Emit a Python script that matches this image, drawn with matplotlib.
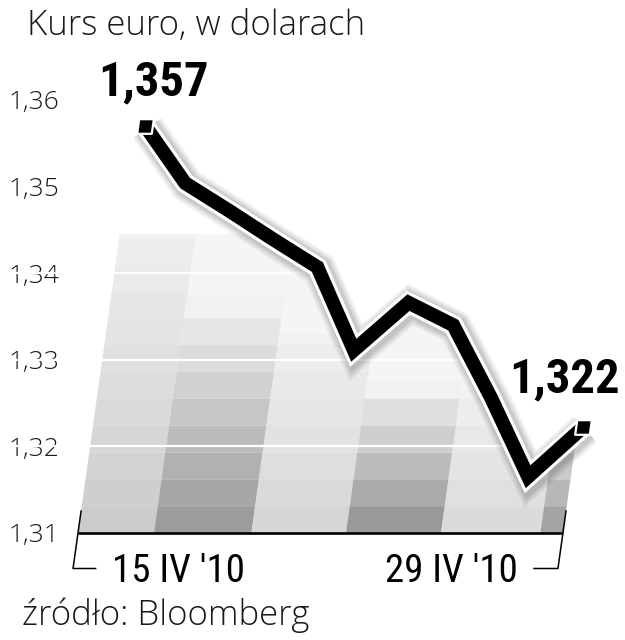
import numpy as np
import matplotlib

matplotlib.use("Agg")
import matplotlib.pyplot as plt
import matplotlib.patheffects as pe
from matplotlib.path import Path
from matplotlib.patches import Polygon, Rectangle
from matplotlib.transforms import Affine2D

# data (EUR/USD, 15-29 IV 2010, business days)
dates = ["15 IV", "16 IV", "19 IV", "20 IV", "21 IV", "22 IV",
         "23 IV", "26 IV", "27 IV", "28 IV", "29 IV"]
rates = [1.357, 1.3504, 1.3472, 1.3439, 1.3407, 1.3311,
         1.3366, 1.3340, 1.3256, 1.3165, 1.3222]
first_label = "1,357"
last_label = "1,322"
yticks = [1.31, 1.32, 1.33, 1.34, 1.35, 1.36]
ytick_labels = ["1,31", "1,32", "1,33", "1,34", "1,35", "1,36"]
xlabels = ["15 IV '10", "29 IV '10"]
title = "Kurs euro, w dolarach"
source = "źródło: Bloomberg"

# decorative background columns (index units), their tops and bottom greys
col_edges = [-0.2125, 1.37, 3.4, 5.37, 7.35, 9.42, 9.89]
col_tops = [1.3445, 1.3375, 1.3330, 1.3275, 1.3265, 1.3225]
col_bottom_grey = [0.80, 0.61, 0.84, 0.60, 0.86, 0.64]
band_top = 1.3445
base = 1.31
skew_k = 25.26  # index units per 1.0 of rate -> 0.14 px/px lean

LIGHT_FONT = ["Open Sans", "Roboto", "DejaVu Sans"]
NARROW = ["Roboto Condensed", "Liberation Sans Narrow", "Roboto", "DejaVu Sans"]

fig = plt.figure(figsize=(6.25, 6.4), dpi=100)
ax = fig.add_axes([0, 0, 1, 1])
ax.set_xlim(-1.8375, 11.1833)
ax.set_ylim(1.297644, 1.371547)
for spine in ax.spines.values():
    spine.set_visible(False)

skew = Affine2D(np.array([[1.0, skew_k, -skew_k * base],
                          [0.0, 1.0, 0.0],
                          [0.0, 0.0, 1.0]])) + ax.transData

x = np.arange(len(rates))
y = np.array(rates)

# clip region: everything below the line
clip_verts = [(-1, 1.29), (-1, 1.40), (0, 1.40)] + list(zip(x, y)) + [(11, y[-1]), (11, 1.29)]
clip_poly = Polygon(clip_verts, closed=True, transform=skew)

# light backdrop
backdrop = Rectangle((col_edges[0], base), col_edges[-1] - col_edges[0], band_top - base,
                     facecolor="#f5f5f5", edgecolor="none", transform=skew, zorder=1)
ax.add_patch(backdrop)
backdrop.set_clip_path(clip_poly)

stripe_h = 0.0031
for c in range(len(col_tops)):
    x0, x1 = col_edges[c], col_edges[c + 1]
    top = col_tops[c]
    n = int(np.ceil((top - base) / stripe_h))
    for k in range(n):
        y0 = base + k * stripe_h
        h = min(stripe_h, top - y0)
        frac = k / max(n - 1, 1)
        g = col_bottom_grey[c] + (0.945 - col_bottom_grey[c]) * frac
        r = Rectangle((x0, y0), x1 - x0, h, facecolor=(g, g, g), edgecolor="none",
                      transform=skew, zorder=1.2)
        ax.add_patch(r)
        r.set_clip_path(clip_poly)

# white grid lines inside the bands
ax.hlines(yticks[1:4], -2, 12, colors="white", linewidth=1.6, zorder=2)

# baseline and slanted brackets
ax.plot([col_edges[0], col_edges[-1]], [base, base], color="black", lw=1.9,
        transform=skew, zorder=3, solid_capstyle="butt")
br_top, br_bot = 1.31254, 1.3059
ax.plot([col_edges[0], col_edges[0], col_edges[0] + 0.47], [br_top, br_bot, br_bot],
        color="black", lw=1.1, transform=skew, zorder=3)
ax.plot([col_edges[-1], col_edges[-1], col_edges[-1] - 0.5], [br_top, br_bot, br_bot],
        color="black", lw=1.1, transform=skew, zorder=3)

# the rate line, white rim and a soft shadow
soft = [pe.SimpleLineShadow(offset=(1.5, -1.5), shadow_color="0.2", alpha=0.07, linewidth=w)
        for w in (25, 22, 19.5, 17.5)]
ax.plot(x, y, color="black", lw=10, transform=skew, zorder=5,
        solid_joinstyle="miter", solid_capstyle="butt",
        path_effects=soft + [pe.Stroke(linewidth=14.5, foreground="white"), pe.Normal()])

# end squares (leaning like the chart)
lean = 0.07
square = Path([(-0.5 - lean, -0.5), (0.5 - lean, -0.5), (0.5 + lean, 0.5), (-0.5 + lean, 0.5), (-0.5 - lean, -0.5)],
              [Path.MOVETO, Path.LINETO, Path.LINETO, Path.LINETO, Path.CLOSEPOLY])
ax.plot([x[0], x[-1]], [y[0], y[-1]], linestyle="none", marker=square, markersize=12,
        markerfacecolor="black", markeredgecolor="white", markeredgewidth=1.6,
        transform=skew, zorder=6)

# value labels
ax.annotate(first_label, xy=(x[0], y[0]), xycoords=skew, xytext=(8, 30), textcoords="offset pixels",
            ha="center", va="baseline", fontsize=35, fontweight="bold", family=NARROW, zorder=7)
ax.annotate(last_label, xy=(x[-1], y[-1]), xycoords=skew, xytext=(-18, 35), textcoords="offset pixels",
            ha="center", va="baseline", fontsize=35, fontweight="bold", family=NARROW, zorder=7)

# y axis labels inside the figure
ax.set_yticks(yticks, labels=ytick_labels)
ax.set_xticks([])
ax.tick_params(axis="y", length=0, pad=-5.8, labelsize=19, labelcolor="#1a1a1a")
for lab in ax.get_yticklabels():
    lab.set_horizontalalignment("left")
    lab.set_family(LIGHT_FONT)
    lab.set_fontweight("light")

# date labels between the brackets
ax.text(x[0] + 0.5, 1.30434, xlabels[0], ha="left", va="baseline", fontsize=28,
        fontweight="normal", family=NARROW)
ax.text(x[-1] - 1.05, 1.30434, xlabels[1], ha="right", va="baseline", fontsize=28,
        fontweight="normal", family=NARROW)

fig.text(27 / 625, 1 - 35 / 640, title, ha="left", va="baseline", fontsize=25,
         family=LIGHT_FONT, fontweight="light", color="#1a1a1a")
fig.text(22 / 625, 1 - 625 / 640, source, ha="left", va="baseline", fontsize=25,
         family=LIGHT_FONT, fontweight="light", color="#1a1a1a")

fig.savefig("out.png", dpi=100)
